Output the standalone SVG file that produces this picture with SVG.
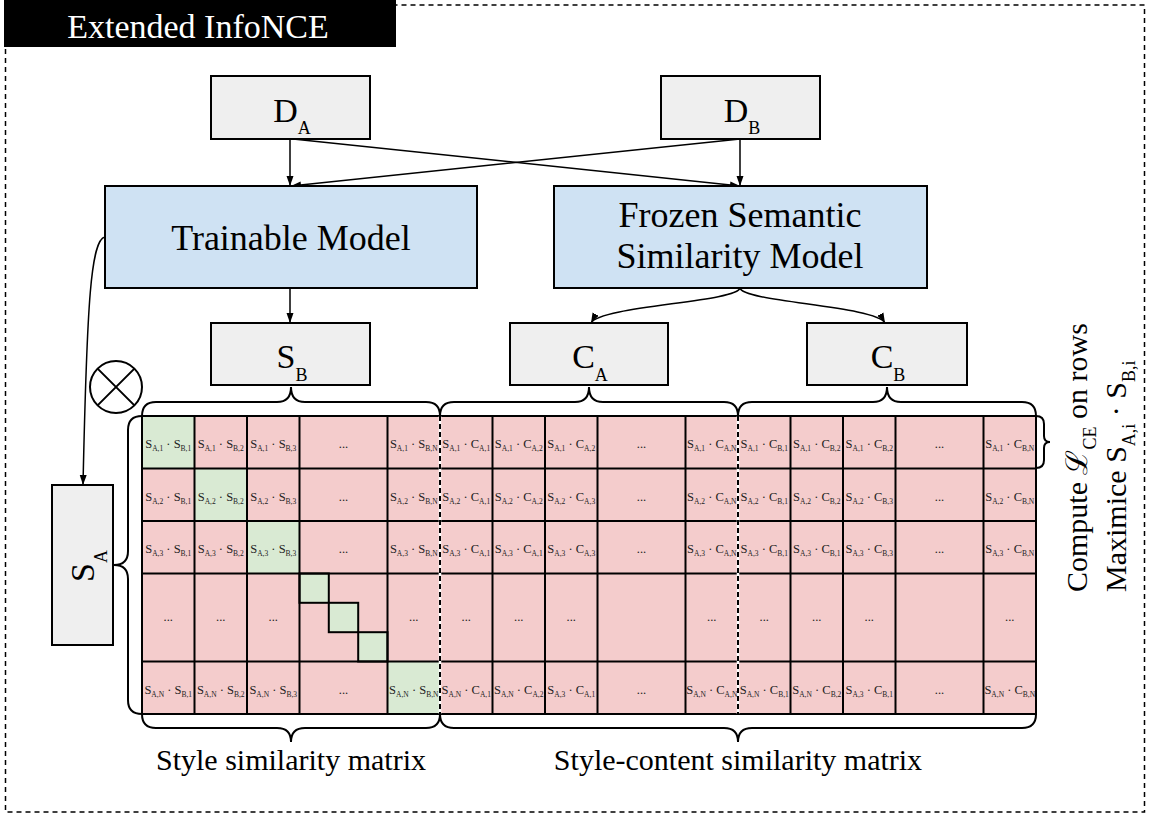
<svg xmlns="http://www.w3.org/2000/svg" width="1151" height="817" viewBox="0 0 1151 817">
<defs>
<marker id="ah" viewBox="0 0 10 10" refX="10" refY="5" markerWidth="10" markerHeight="10" markerUnits="userSpaceOnUse" orient="auto"><path d="M0,1.5 L10,5 L0,8.5 z" fill="#000"/></marker>
<style>
.f{font-family:"Liberation Serif","Times New Roman",serif;fill:#000}
.box{fill:#efefef;stroke:#000;stroke-width:2}
.blue{fill:#cfe2f3;stroke:#000;stroke-width:2}
.big{font-size:34px}
.sub{font-size:18px}
.model{font-size:36px}
.ct{font-family:"Liberation Serif","Times New Roman",serif;font-size:12.5px;fill:#222;text-anchor:middle}
.s{font-size:7.5px}
.conn{fill:none;stroke:#000;stroke-width:1.5}
.grid{stroke:#000;stroke-width:2;fill:none}
.brace{fill:none;stroke:#000;stroke-width:2}
.pink{fill:#f4cccc}
.green{fill:#d9ead3}
</style>
</defs>
<rect x="0" y="0" width="1151" height="817" fill="#fff"/>
<g id="frame">
<rect x="5.5" y="5" width="1139" height="807" fill="none" stroke="#000" stroke-width="1.5" stroke-dasharray="5,4"/>
<rect x="4" y="0" width="392" height="47" fill="#000"/>
<text class="f" x="198" y="38" font-size="34" text-anchor="middle" style="fill:#fff">Extended InfoNCE</text>
</g>

<g id="connectors">
<path class="conn" d="M290,139 L290,186" marker-end="url(#ah)"/>
<path class="conn" d="M293,139 L740,186" marker-end="url(#ah)"/>
<path class="conn" d="M740,139 L740,186" marker-end="url(#ah)"/>
<path class="conn" d="M740,139 L291,186" marker-end="url(#ah)"/>
<path class="conn" d="M290,288 L290,323" marker-end="url(#ah)"/>
<path class="conn" d="M740,288 C737,302 600,306 591,323" marker-end="url(#ah)"/>
<path class="conn" d="M740,288 C743,302 876,306 885,323" marker-end="url(#ah)"/>
<path class="conn" d="M105,237 C91,240 87,300 83,485" marker-end="url(#ah)"/>
</g>

<g id="DA">
<rect class="box" x="211" y="76" width="159" height="63"/>
<text class="f big" x="292" y="122" text-anchor="middle">D<tspan class="sub" dy="12">A</tspan></text>
</g>
<g id="DB">
<rect class="box" x="661" y="76" width="159" height="63"/>
<text class="f big" x="742" y="122" text-anchor="middle">D<tspan class="sub" dy="12">B</tspan></text>
</g>
<g id="trainable">
<rect class="blue" x="105" y="186" width="372" height="102"/>
<text class="f model" x="291" y="250" text-anchor="middle">Trainable Model</text>
</g>
<g id="frozen">
<rect class="blue" x="554" y="186" width="373" height="102"/>
<text class="f model" x="740" y="227" text-anchor="middle">Frozen Semantic</text>
<text class="f model" x="740" y="268" text-anchor="middle">Similarity Model</text>
</g>
<g id="SB">
<rect class="box" x="211" y="323" width="159" height="62"/>
<text class="f big" x="292" y="368" text-anchor="middle">S<tspan class="sub" dy="13">B</tspan></text>
</g>
<g id="CA">
<rect class="box" x="510" y="323" width="158" height="62"/>
<text class="f big" x="590" y="368" text-anchor="middle">C<tspan class="sub" dy="13">A</tspan></text>
</g>
<g id="CB">
<rect class="box" x="807" y="323" width="160" height="62"/>
<text class="f big" x="888" y="368" text-anchor="middle">C<tspan class="sub" dy="13">B</tspan></text>
</g>
<g id="SA">
<rect class="box" x="52" y="485" width="61" height="160"/>
<text class="f big" transform="translate(94,566) rotate(-90)" text-anchor="middle">S<tspan class="sub" dy="13">A</tspan></text>
</g>
<g id="product">
<circle cx="116" cy="387" r="26" fill="#fff" stroke="#000" stroke-width="2"/>
<path d="M97.6,368.6 L134.4,405.4 M134.4,368.6 L97.6,405.4" stroke="#000" stroke-width="2"/>
</g>

<g id="matrix">
<rect class="pink" x="142" y="416" width="894" height="298"/>
<rect class="green" x="142" y="416" width="52.5" height="52.5"/>
<rect class="green" x="194.5" y="468.5" width="52.5" height="52.5"/>
<rect class="green" x="247" y="521" width="52.5" height="52.5"/>
<rect class="green" x="387.5" y="661.5" width="52.5" height="52.5"/>
<rect class="green" x="299.5" y="573.5" width="29.3" height="29.3" stroke="#000" stroke-width="2"/>
<rect class="green" x="328.8" y="602.8" width="29.4" height="29.4" stroke="#000" stroke-width="2"/>
<rect class="green" x="358.2" y="632.2" width="29.3" height="29.3" stroke="#000" stroke-width="2"/>
<path class="grid" d="M142,468.5 H1036 M142,521 H1036 M142,573.5 H1036 M142,661.5 H1036 M194.5,416 V714 M247,416 V714 M299.5,416 V714 M387.5,416 V714 M492.5,416 V714 M545,416 V714 M597.5,416 V714 M685.5,416 V714 M790.5,416 V714 M843,416 V714 M895.5,416 V714 M983.5,416 V714"/>
<rect x="142" y="416" width="894" height="298" fill="none" stroke="#000" stroke-width="2"/>
<path d="M440,416 V714 M738,416 V714" stroke="#fff" stroke-width="2.5"/>
<path d="M440,416 V714 M738,416 V714" stroke="#000" stroke-width="2" stroke-dasharray="5,3"/>

<text class="ct" x="168.25" y="448">S<tspan class="s" dy="3">A,1</tspan><tspan dy="-3"> · S</tspan><tspan class="s" dy="3">B,1</tspan></text>
<text class="ct" x="220.75" y="448">S<tspan class="s" dy="3">A,1</tspan><tspan dy="-3"> · S</tspan><tspan class="s" dy="3">B,2</tspan></text>
<text class="ct" x="273.25" y="448">S<tspan class="s" dy="3">A,1</tspan><tspan dy="-3"> · S</tspan><tspan class="s" dy="3">B,3</tspan></text>
<text class="ct" x="343.5" y="448">...</text>
<text class="ct" x="413.75" y="448">S<tspan class="s" dy="3">A,1</tspan><tspan dy="-3"> · S</tspan><tspan class="s" dy="3">B,N</tspan></text>
<text class="ct" x="466.25" y="448">S<tspan class="s" dy="3">A,1</tspan><tspan dy="-3"> · C</tspan><tspan class="s" dy="3">A,1</tspan></text>
<text class="ct" x="518.75" y="448">S<tspan class="s" dy="3">A,1</tspan><tspan dy="-3"> · C</tspan><tspan class="s" dy="3">A,2</tspan></text>
<text class="ct" x="571.25" y="448">S<tspan class="s" dy="3">A,1</tspan><tspan dy="-3"> · C</tspan><tspan class="s" dy="3">A,2</tspan></text>
<text class="ct" x="641.5" y="448">...</text>
<text class="ct" x="711.75" y="448">S<tspan class="s" dy="3">A,1</tspan><tspan dy="-3"> · C</tspan><tspan class="s" dy="3">A,N</tspan></text>
<text class="ct" x="764.25" y="448">S<tspan class="s" dy="3">A,1</tspan><tspan dy="-3"> · C</tspan><tspan class="s" dy="3">B,1</tspan></text>
<text class="ct" x="816.75" y="448">S<tspan class="s" dy="3">A,1</tspan><tspan dy="-3"> · C</tspan><tspan class="s" dy="3">B,2</tspan></text>
<text class="ct" x="869.25" y="448">S<tspan class="s" dy="3">A,1</tspan><tspan dy="-3"> · C</tspan><tspan class="s" dy="3">B,2</tspan></text>
<text class="ct" x="939.5" y="448">...</text>
<text class="ct" x="1009.75" y="448">S<tspan class="s" dy="3">A,1</tspan><tspan dy="-3"> · C</tspan><tspan class="s" dy="3">B,N</tspan></text>

<text class="ct" x="168.25" y="500.5">S<tspan class="s" dy="3">A,2</tspan><tspan dy="-3"> · S</tspan><tspan class="s" dy="3">B,1</tspan></text>
<text class="ct" x="220.75" y="500.5">S<tspan class="s" dy="3">A,2</tspan><tspan dy="-3"> · S</tspan><tspan class="s" dy="3">B,2</tspan></text>
<text class="ct" x="273.25" y="500.5">S<tspan class="s" dy="3">A,2</tspan><tspan dy="-3"> · S</tspan><tspan class="s" dy="3">B,3</tspan></text>
<text class="ct" x="343.5" y="500.5">...</text>
<text class="ct" x="413.75" y="500.5">S<tspan class="s" dy="3">A,2</tspan><tspan dy="-3"> · S</tspan><tspan class="s" dy="3">B,N</tspan></text>
<text class="ct" x="466.25" y="500.5">S<tspan class="s" dy="3">A,2</tspan><tspan dy="-3"> · C</tspan><tspan class="s" dy="3">A,1</tspan></text>
<text class="ct" x="518.75" y="500.5">S<tspan class="s" dy="3">A,2</tspan><tspan dy="-3"> · C</tspan><tspan class="s" dy="3">A,2</tspan></text>
<text class="ct" x="571.25" y="500.5">S<tspan class="s" dy="3">A,2</tspan><tspan dy="-3"> · C</tspan><tspan class="s" dy="3">A,3</tspan></text>
<text class="ct" x="641.5" y="500.5">...</text>
<text class="ct" x="711.75" y="500.5">S<tspan class="s" dy="3">A,2</tspan><tspan dy="-3"> · C</tspan><tspan class="s" dy="3">A,N</tspan></text>
<text class="ct" x="764.25" y="500.5">S<tspan class="s" dy="3">A,2</tspan><tspan dy="-3"> · C</tspan><tspan class="s" dy="3">B,1</tspan></text>
<text class="ct" x="816.75" y="500.5">S<tspan class="s" dy="3">A,2</tspan><tspan dy="-3"> · C</tspan><tspan class="s" dy="3">B,2</tspan></text>
<text class="ct" x="869.25" y="500.5">S<tspan class="s" dy="3">A,2</tspan><tspan dy="-3"> · C</tspan><tspan class="s" dy="3">B,3</tspan></text>
<text class="ct" x="939.5" y="500.5">...</text>
<text class="ct" x="1009.75" y="500.5">S<tspan class="s" dy="3">A,2</tspan><tspan dy="-3"> · C</tspan><tspan class="s" dy="3">B,N</tspan></text>

<text class="ct" x="168.25" y="553">S<tspan class="s" dy="3">A,3</tspan><tspan dy="-3"> · S</tspan><tspan class="s" dy="3">B,1</tspan></text>
<text class="ct" x="220.75" y="553">S<tspan class="s" dy="3">A,3</tspan><tspan dy="-3"> · S</tspan><tspan class="s" dy="3">B,2</tspan></text>
<text class="ct" x="273.25" y="553">S<tspan class="s" dy="3">A,3</tspan><tspan dy="-3"> · S</tspan><tspan class="s" dy="3">B,3</tspan></text>
<text class="ct" x="343.5" y="553">...</text>
<text class="ct" x="413.75" y="553">S<tspan class="s" dy="3">A,3</tspan><tspan dy="-3"> · S</tspan><tspan class="s" dy="3">B,N</tspan></text>
<text class="ct" x="466.25" y="553">S<tspan class="s" dy="3">A,3</tspan><tspan dy="-3"> · C</tspan><tspan class="s" dy="3">A,1</tspan></text>
<text class="ct" x="518.75" y="553">S<tspan class="s" dy="3">A,3</tspan><tspan dy="-3"> · C</tspan><tspan class="s" dy="3">A,1</tspan></text>
<text class="ct" x="571.25" y="553">S<tspan class="s" dy="3">A,3</tspan><tspan dy="-3"> · C</tspan><tspan class="s" dy="3">A,3</tspan></text>
<text class="ct" x="641.5" y="553">...</text>
<text class="ct" x="711.75" y="553">S<tspan class="s" dy="3">A,3</tspan><tspan dy="-3"> · C</tspan><tspan class="s" dy="3">A,N</tspan></text>
<text class="ct" x="764.25" y="553">S<tspan class="s" dy="3">A,3</tspan><tspan dy="-3"> · C</tspan><tspan class="s" dy="3">B,1</tspan></text>
<text class="ct" x="816.75" y="553">S<tspan class="s" dy="3">A,3</tspan><tspan dy="-3"> · C</tspan><tspan class="s" dy="3">B,1</tspan></text>
<text class="ct" x="869.25" y="553">S<tspan class="s" dy="3">A,3</tspan><tspan dy="-3"> · C</tspan><tspan class="s" dy="3">B,3</tspan></text>
<text class="ct" x="939.5" y="553">...</text>
<text class="ct" x="1009.75" y="553">S<tspan class="s" dy="3">A,3</tspan><tspan dy="-3"> · C</tspan><tspan class="s" dy="3">B,N</tspan></text>

<text class="ct" x="168.25" y="621">...</text>
<text class="ct" x="220.75" y="621">...</text>
<text class="ct" x="273.25" y="621">...</text>
<text class="ct" x="413.75" y="621">...</text>
<text class="ct" x="466.25" y="621">...</text>
<text class="ct" x="518.75" y="621">...</text>
<text class="ct" x="571.25" y="621">...</text>
<text class="ct" x="711.75" y="621">...</text>
<text class="ct" x="764.25" y="621">...</text>
<text class="ct" x="816.75" y="621">...</text>
<text class="ct" x="869.25" y="621">...</text>
<text class="ct" x="1009.75" y="621">...</text>

<text class="ct" x="168.25" y="694">S<tspan class="s" dy="3">A,N</tspan><tspan dy="-3"> · S</tspan><tspan class="s" dy="3">B,1</tspan></text>
<text class="ct" x="220.75" y="694">S<tspan class="s" dy="3">A,N</tspan><tspan dy="-3"> · S</tspan><tspan class="s" dy="3">B,2</tspan></text>
<text class="ct" x="273.25" y="694">S<tspan class="s" dy="3">A,N</tspan><tspan dy="-3"> · S</tspan><tspan class="s" dy="3">B,3</tspan></text>
<text class="ct" x="343.5" y="694">...</text>
<text class="ct" x="413.75" y="694">S<tspan class="s" dy="3">A,N</tspan><tspan dy="-3"> · S</tspan><tspan class="s" dy="3">B,N</tspan></text>
<text class="ct" x="466.25" y="694">S<tspan class="s" dy="3">A,N</tspan><tspan dy="-3"> · C</tspan><tspan class="s" dy="3">A,1</tspan></text>
<text class="ct" x="518.75" y="694">S<tspan class="s" dy="3">A,N</tspan><tspan dy="-3"> · C</tspan><tspan class="s" dy="3">A,2</tspan></text>
<text class="ct" x="571.25" y="694">S<tspan class="s" dy="3">A,3</tspan><tspan dy="-3"> · C</tspan><tspan class="s" dy="3">A,1</tspan></text>
<text class="ct" x="641.5" y="694">...</text>
<text class="ct" x="711.75" y="694">S<tspan class="s" dy="3">A,N</tspan><tspan dy="-3"> · C</tspan><tspan class="s" dy="3">A,N</tspan></text>
<text class="ct" x="764.25" y="694">S<tspan class="s" dy="3">A,N</tspan><tspan dy="-3"> · C</tspan><tspan class="s" dy="3">B,1</tspan></text>
<text class="ct" x="816.75" y="694">S<tspan class="s" dy="3">A,N</tspan><tspan dy="-3"> · C</tspan><tspan class="s" dy="3">B,2</tspan></text>
<text class="ct" x="869.25" y="694">S<tspan class="s" dy="3">A,3</tspan><tspan dy="-3"> · C</tspan><tspan class="s" dy="3">B,1</tspan></text>
<text class="ct" x="939.5" y="694">...</text>
<text class="ct" x="1009.75" y="694">S<tspan class="s" dy="3">A,N</tspan><tspan dy="-3"> · C</tspan><tspan class="s" dy="3">B,N</tspan></text>
</g>

<g id="braces">
<path class="brace" d="M142,416 Q142,402 156,402 L277,402 Q291,402 291,387 Q291,402 305,402 L426,402 Q440,402 440,416"/>
<path class="brace" d="M440,416 Q440,402 454,402 L575,402 Q589,402 589,387 Q589,402 603,402 L724,402 Q738,402 738,416"/>
<path class="brace" d="M738,416 Q738,402 752,402 L873,402 Q887,402 887,387 Q887,402 901,402 L1022,402 Q1036,402 1036,416"/>
<path class="brace" d="M142,416 Q128,416 128,430 L128,551 Q128,565 114,565 Q128,565 128,579 L128,700 Q128,714 142,714"/>
<path class="brace" d="M1036,416 Q1044,416 1044,424 L1044,436 Q1044,442 1050,442 Q1044,442 1044,448 L1044,460 Q1044,468 1036,468"/>
<path class="brace" d="M142,714 Q142,728 156,728 L277,728 Q291,728 291,742 Q291,728 305,728 L426,728 Q440,728 440,714"/>
<path class="brace" d="M440,714 Q440,728 454,728 L724,728 Q738,728 738,742 Q738,728 752,728 L1022,728 Q1036,728 1036,714"/>
</g>

<g id="labels">
<text class="f" x="291" y="770" font-size="30" text-anchor="middle">Style similarity matrix</text>
<text class="f" x="738" y="770" font-size="30" text-anchor="middle">Style-content similarity matrix</text>
<text class="f" font-size="30" transform="translate(1087,592) rotate(-90)">Compute ℒ<tspan font-size="18" dy="9">CE</tspan><tspan dy="-9"> on rows</tspan></text>
<text class="f" font-size="30" transform="translate(1126,592) rotate(-90)">Maximice S<tspan font-size="18" dy="9">A,i</tspan><tspan dy="-9"> · S</tspan><tspan font-size="18" dy="9">B,i</tspan></text>
</g>
</svg>
